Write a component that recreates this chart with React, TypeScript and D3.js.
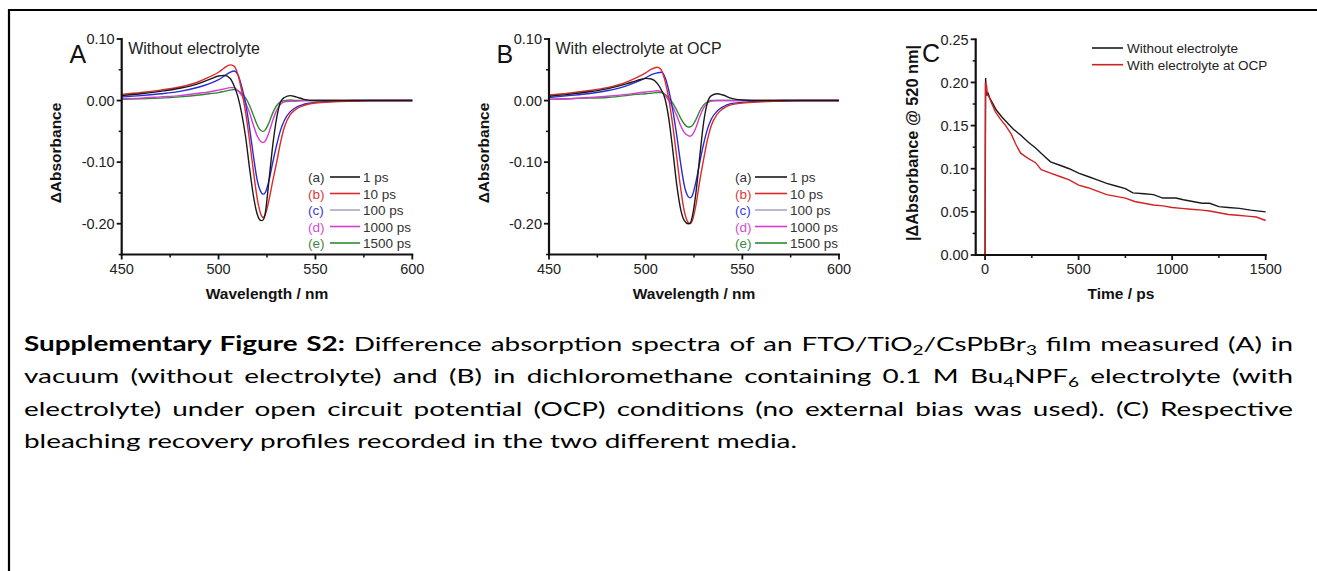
import React, { useLayoutEffect, useRef } from "react";
import * as d3 from "d3";

const FONT = "'Liberation Sans', Arial, Helvetica, sans-serif";
const CAPTION_FONT = "Lato, 'Open Sans', sans-serif";

// ---------- Data ----------
const wavelengths = [450, 460, 470, 480, 490, 495, 500, 503, 506, 508, 510, 512, 514, 516, 518, 520, 522, 523, 524, 526, 528, 530, 532, 534, 537, 540, 544, 550, 560, 570, 580, 600];

const delayLabels = ["1 ps", "10 ps", "100 ps", "1000 ps", "1500 ps"];
const delayKeys = ["(a)", "(b)", "(c)", "(d)", "(e)"];

// Panel A: without electrolyte
const A_1ps = [0.008, 0.011, 0.015, 0.02, 0.028, 0.034, 0.04, 0.041, 0.036, 0.024, 0.006, -0.022, -0.06, -0.11, -0.155, -0.185, -0.195, -0.194, -0.185, -0.13, -0.072, -0.028, -0.002, 0.005, 0.008, 0.006, 0.002, 0.0, 0.0, 0.0, 0.0, 0.0];
const A_10ps = [0.01, 0.013, 0.017, 0.022, 0.031, 0.038, 0.046, 0.053, 0.058, 0.056, 0.042, 0.015, -0.02, -0.065, -0.115, -0.16, -0.186, -0.19, -0.186, -0.162, -0.13, -0.1, -0.068, -0.043, -0.023, -0.014, -0.008, -0.004, -0.002, -0.001, 0.0, 0.0];
const A_100ps = [0.006, 0.008, 0.011, 0.015, 0.022, 0.027, 0.034, 0.04, 0.046, 0.048, 0.042, 0.022, -0.005, -0.045, -0.09, -0.13, -0.149, -0.152, -0.15, -0.13, -0.1, -0.072, -0.048, -0.032, -0.018, -0.011, -0.006, -0.003, -0.001, 0.0, 0.0, 0.0];
const A_1000ps = [0.003, 0.004, 0.006, 0.008, 0.012, 0.014, 0.017, 0.019, 0.021, 0.021, 0.016, 0.008, -0.004, -0.02, -0.04, -0.058, -0.067, -0.068, -0.066, -0.052, -0.032, -0.016, -0.006, -0.002, -0.001, -0.001, 0.0, 0.0, 0.0, 0.0, 0.0, 0.0];
const A_1500ps = [0.002, 0.003, 0.004, 0.006, 0.009, 0.011, 0.013, 0.015, 0.017, 0.018, 0.016, 0.011, 0.004, -0.008, -0.024, -0.04, -0.049, -0.05, -0.048, -0.036, -0.02, -0.008, -0.002, 0.0, 0.001, 0.0, 0.0, 0.0, 0.0, 0.0, 0.0, 0.0];

// Panel B: with electrolyte at OCP
const B_1ps = [0.007, 0.01, 0.014, 0.019, 0.027, 0.032, 0.036, 0.035, 0.028, 0.018, 0.003, -0.03, -0.08, -0.135, -0.175, -0.195, -0.2, -0.199, -0.19, -0.15, -0.09, -0.035, -0.003, 0.008, 0.011, 0.009, 0.004, 0.001, 0.0, 0.0, 0.0, 0.0];
const B_10ps = [0.009, 0.012, 0.016, 0.021, 0.03, 0.037, 0.045, 0.051, 0.054, 0.05, 0.032, 0.002, -0.04, -0.09, -0.14, -0.18, -0.198, -0.2, -0.196, -0.17, -0.13, -0.095, -0.063, -0.04, -0.022, -0.013, -0.007, -0.004, -0.002, -0.001, 0.0, 0.0];
const B_100ps = [0.005, 0.008, 0.011, 0.016, 0.024, 0.03, 0.037, 0.042, 0.045, 0.046, 0.038, 0.016, -0.015, -0.055, -0.1, -0.138, -0.156, -0.158, -0.155, -0.132, -0.1, -0.07, -0.046, -0.03, -0.017, -0.01, -0.005, -0.003, -0.001, 0.0, 0.0, 0.0];
const B_1000ps = [0.002, 0.003, 0.005, 0.007, 0.01, 0.012, 0.014, 0.015, 0.016, 0.015, 0.009, 0.0, -0.01, -0.024, -0.04, -0.052, -0.057, -0.058, -0.056, -0.044, -0.026, -0.012, -0.004, -0.001, 0.0, 0.0, 0.0, 0.0, 0.0, 0.0, 0.0, 0.0];
const B_1500ps = [0.002, 0.003, 0.004, 0.005, 0.008, 0.01, 0.011, 0.012, 0.013, 0.013, 0.01, 0.004, -0.004, -0.015, -0.028, -0.038, -0.043, -0.043, -0.041, -0.031, -0.017, -0.007, -0.002, 0.0, 0.0, 0.0, 0.0, 0.0, 0.0, 0.0, 0.0, 0.0];

// Panel C: bleach recovery at 520 nm
const C_time_without = [-3, 0, 3, 8, 15, 25, 40, 60, 90, 120, 150, 190, 230, 270, 320, 350, 400, 450, 500, 550, 600, 650, 700, 750, 790, 850, 900, 950, 1020, 1060, 1110, 1160, 1200, 1250, 1300, 1360, 1420, 1500];
const C_val_without = [0, 0, 0.205, 0.186, 0.188, 0.182, 0.176, 0.168, 0.16, 0.153, 0.146, 0.139, 0.131, 0.124, 0.114, 0.108, 0.104, 0.1, 0.095, 0.091, 0.087, 0.083, 0.08, 0.077, 0.072, 0.071, 0.07, 0.066, 0.066, 0.064, 0.062, 0.06, 0.06, 0.056, 0.055, 0.054, 0.052, 0.05];
const C_time_with = [-3, 0, 2, 5, 8, 12, 20, 35, 55, 80, 110, 140, 165, 190, 230, 270, 300, 350, 400, 450, 500, 550, 600, 650, 700, 750, 800, 850, 900, 950, 1000, 1050, 1100, 1160, 1200, 1250, 1300, 1350, 1400, 1450, 1500];
const C_val_with = [0, 0, 0.2, 0.19, 0.197, 0.185, 0.184, 0.176, 0.166, 0.158, 0.15, 0.14, 0.128, 0.118, 0.112, 0.107, 0.099, 0.095, 0.091, 0.087, 0.081, 0.078, 0.074, 0.07, 0.068, 0.066, 0.062, 0.06, 0.058, 0.057, 0.055, 0.054, 0.053, 0.052, 0.051, 0.049, 0.047, 0.046, 0.045, 0.044, 0.04];

const specXTicks = [450, 500, 550, 600];
const specXTickLabels = ["450", "500", "550", "600"];
const specXMinor = [475, 525, 575];
const specYTicks = [0.1, 0.0, -0.1, -0.2];
const specYTickLabels = ["0.10", "0.00", "-0.10", "-0.20"];
const specYMinor = [0.05, -0.05, -0.15, -0.25];

const kinXTicks = [0, 500, 1000, 1500];
const kinXTickLabels = ["0", "500", "1000", "1500"];
const kinXMinor = [250, 750, 1250];
const kinYTicks = [0, 0.05, 0.1, 0.15, 0.2, 0.25];
const kinYTickLabels = ["0.00", "0.05", "0.10", "0.15", "0.20", "0.25"];
const kinYMinor = [0.025, 0.075, 0.125, 0.175, 0.225];

const kinLegend = ["Without electrolyte", "With electrolyte at OCP"];

// ---------- Styles ----------
const curveColors = ["#1a1a1a", "#dd2a2a", "#2a2ad8", "#d43cd4", "#2f8a2f"];
const legendLineColors = ["#1a1a1a", "#dd2a2a", "#a8a8c4", "#d43cd4", "#2f8a2f"];
const keyColors = ["#333333", "#dd3a3a", "#3a3ad8", "#d44cd4", "#3f8a3f"];

type AxesProps = {
  x: d3.ScaleLinear<number, number>;
  y: d3.ScaleLinear<number, number>;
  xTicks: number[];
  xLabels: string[];
  xMinor: number[];
  yTicks: number[];
  yLabels: string[];
  yMinor: number[];
};

function Axes({ x, y, xTicks, xLabels, xMinor, yTicks, yLabels, yMinor }: AxesProps) {
  const [x0, x1] = x.range();
  const [yb, yt] = y.range();
  return (
    <g fontFamily={FONT} fill="#222">
      <line x1={x0} x2={x0} y1={yt - 1} y2={yb + 1} stroke="#111" strokeWidth={2.2} />
      <line x1={x0 - 1} x2={x1 + 1} y1={yb} y2={yb} stroke="#111" strokeWidth={2.2} />
      {yTicks.map((t, i) => (
        <g key={"yt" + i}>
          <line x1={x0 - 5} x2={x0} y1={y(t)} y2={y(t)} stroke="#111" strokeWidth={1.8} />
          <text x={x0 - 7} y={y(t)} dy="0.36em" textAnchor="end" fontSize={14.5}>
            {yLabels[i]}
          </text>
        </g>
      ))}
      {yMinor.map((t, i) => (
        <line key={"ym" + i} x1={x0 - 3} x2={x0} y1={y(t)} y2={y(t)} stroke="#111" strokeWidth={1.5} />
      ))}
      {xTicks.map((t, i) => (
        <g key={"xt" + i}>
          <line x1={x(t)} x2={x(t)} y1={yb} y2={yb + 5} stroke="#111" strokeWidth={1.8} />
          <text x={x(t)} y={yb + 19} textAnchor="middle" fontSize={14.5}>
            {xLabels[i]}
          </text>
        </g>
      ))}
      {xMinor.map((t, i) => (
        <line key={"xm" + i} x1={x(t)} x2={x(t)} y1={yb} y2={yb + 3} stroke="#111" strokeWidth={1.5} />
      ))}
    </g>
  );
}

type SpecProps = {
  xr: [number, number];
  letter: string;
  letterX: number;
  title: string;
  series: number[][];
  legendX: number;
  legendLineX: [number, number];
  legendTextX: number;
  yTitleX: number;
};

function SpectraPanel({ xr, letter, letterX, title, series, legendX, legendLineX, legendTextX, yTitleX }: SpecProps) {
  const x = d3.scaleLinear().domain([450, 600]).range(xr);
  const y = d3.scaleLinear().domain([-0.25, 0.1]).range([254.5, 39]);
  const line = d3
    .line<number>()
    .x((_, i) => x(wavelengths[i]))
    .y((d) => y(d))
    .curve(d3.curveMonotoneX);
  const order = [4, 3, 2, 1, 0];
  const rowY = [182, 198.5, 215, 231.5, 248];
  return (
    <g>
      {order.map((k) => (
        <path key={k} d={line(series[k]) || ""} fill="none" stroke={curveColors[k]} strokeWidth={1.4} />
      ))}
      <Axes
        x={x}
        y={y}
        xTicks={specXTicks}
        xLabels={specXTickLabels}
        xMinor={specXMinor}
        yTicks={specYTicks}
        yLabels={specYTickLabels}
        yMinor={specYMinor}
      />
      <text x={letterX} y={63} fontFamily={FONT} fontSize={25} fill="#111">
        {letter}
      </text>
      <text x={xr[0] + 6.5} y={53.5} fontFamily={FONT} fontSize={16} fill="#222">
        {title}
      </text>
      <text x={(xr[0] + xr[1]) / 2} y={298.5} textAnchor="middle" fontFamily={FONT} fontWeight="bold" fontSize={15.5} fill="#111">
        Wavelength / nm
      </text>
      <text
        transform={`translate(${yTitleX},153) rotate(-90)`}
        textAnchor="middle"
        fontFamily={FONT}
        fontWeight="bold"
        fontSize={15.5}
        fill="#111"
      >
        ΔAbsorbance
      </text>
      {delayLabels.map((lab, i) => (
        <g key={lab} fontFamily={FONT} fontSize={13.5}>
          <text x={legendX} y={rowY[i]} fill={keyColors[i]}>
            {delayKeys[i]}
          </text>
          <line x1={legendLineX[0]} x2={legendLineX[1]} y1={rowY[i] - 5} y2={rowY[i] - 5} stroke={legendLineColors[i]} strokeWidth={1.6} />
          <text x={legendTextX} y={rowY[i]} fill="#333">
            {lab}
          </text>
        </g>
      ))}
    </g>
  );
}

function KineticsPanel() {
  const x = d3.scaleLinear().domain([-50, 1500]).range([975.7, 1265.7]);
  const y = d3.scaleLinear().domain([0, 0.25]).range([255, 39.3]);
  const mk = (ts: number[]) =>
    d3
      .line<number>()
      .x((_, i) => x(ts[i]))
      .y((d) => y(d));
  const lw = mk(C_time_without);
  const lr = mk(C_time_with);
  return (
    <g>
      <path d={lw(C_val_without) || ""} fill="none" stroke="#1a1a1a" strokeWidth={1.4} />
      <path d={lr(C_val_with) || ""} fill="none" stroke="#d42020" strokeWidth={1.4} />
      <Axes
        x={x}
        y={y}
        xTicks={kinXTicks}
        xLabels={kinXTickLabels}
        xMinor={kinXMinor}
        yTicks={kinYTicks}
        yLabels={kinYTickLabels}
        yMinor={kinYMinor}
      />
      <text x={922} y={62} fontFamily={FONT} fontSize={25} fill="#111">
        C
      </text>
      <text x={1121} y={298.5} textAnchor="middle" fontFamily={FONT} fontWeight="bold" fontSize={15.5} fill="#111">
        Time / ps
      </text>
      <text
        transform="translate(917.5,143) rotate(-90)"
        textAnchor="middle"
        fontFamily={FONT}
        fontWeight="bold"
        fontSize={16.3}
        fill="#111"
      >
        |ΔAbsorbance @ 520 nm|
      </text>
      {kinLegend.map((lab, i) => (
        <g key={lab} fontFamily={FONT} fontSize={13.5}>
          <line x1={1092} x2={1123} y1={48 + i * 16.7} y2={48 + i * 16.7} stroke={i === 0 ? "#1a1a1a" : "#d42020"} strokeWidth={1.6} />
          <text x={1127} y={53 + i * 16.7} fill="#222">
            {lab}
          </text>
        </g>
      ))}
    </g>
  );
}

const CAP_SX = 1.395;

function Caption() {
  const ref = useRef<SVGGElement>(null);
  useLayoutEffect(() => {
    const g = ref.current;
    if (!g) return;
    const lines = Array.from(g.querySelectorAll("text[data-justify]")) as SVGTextElement[];
    lines.forEach((t) => {
      t.setAttribute("word-spacing", "0");
      const target = parseFloat(t.getAttribute("data-justify") || "0");
      const len = t.getComputedTextLength();
      const spaces = (t.textContent || "").split(" ").length - 1;
      if (spaces > 0 && target > len) {
        t.setAttribute("word-spacing", String((target - len) / spaces));
      }
    });
  }, []);
  const x0 = 24 / CAP_SX;
  const W = 1269 / CAP_SX;
  const fs = 20;
  const sub = (s: string) => (
    <tspan fontSize={fs * 0.68} dy={4}>
      {s}
    </tspan>
  );
  return (
    <g ref={ref} transform={`scale(${CAP_SX},1)`} fontFamily={CAPTION_FONT} fontSize={fs} fill="#000">
      <text x={x0} y={351} data-justify={W}>
        <tspan fontWeight="bold">Supplementary Figure S2:</tspan> Difference absorption spectra of an FTO/TiO
        {sub("2")}
        <tspan dy={-4}>/CsPbBr</tspan>
        {sub("3")}
        <tspan dy={-4}> film measured (A) in</tspan>
      </text>
      <text x={x0} y={383.5} data-justify={W}>
        vacuum (without electrolyte) and (B) in dichloromethane containing 0.1 M Bu
        {sub("4")}
        <tspan dy={-4}>NPF</tspan>
        {sub("6")}
        <tspan dy={-4}> electrolyte (with</tspan>
      </text>
      <text x={x0} y={416} data-justify={W}>
        electrolyte) under open circuit potential (OCP) conditions (no external bias was used). (C) Respective
      </text>
      <text x={x0} y={448.5}>
        bleaching recovery profiles recorded in the two different media.
      </text>
    </g>
  );
}

export default function App() {
  return (
    <svg
      width={1317}
      height={571}
      viewBox="0 0 1317 571"
      style={{ position: "absolute", left: 0, top: 0, background: "#fff" }}
    >
      <rect x={0} y={0} width={1317} height={571} fill="#fff" />
      <path d="M9,572 L9,10 L1318,10" fill="none" stroke="#000" strokeWidth={2.2} />
      <SpectraPanel
        xr={[121.7, 412.3]}
        letter="A"
        letterX={69.5}
        title="Without electrolyte"
        series={[A_1ps, A_10ps, A_100ps, A_1000ps, A_1500ps]}
        legendX={308}
        legendLineX={[330, 360]}
        legendTextX={363}
        yTitleX={61}
      />
      <SpectraPanel
        xr={[549, 839]}
        letter="B"
        letterX={496.5}
        title="With electrolyte at OCP"
        series={[B_1ps, B_10ps, B_100ps, B_1000ps, B_1500ps]}
        legendX={735}
        legendLineX={[755, 787]}
        legendTextX={790}
        yTitleX={489}
      />
      <KineticsPanel />
      <Caption />
    </svg>
  );
}
